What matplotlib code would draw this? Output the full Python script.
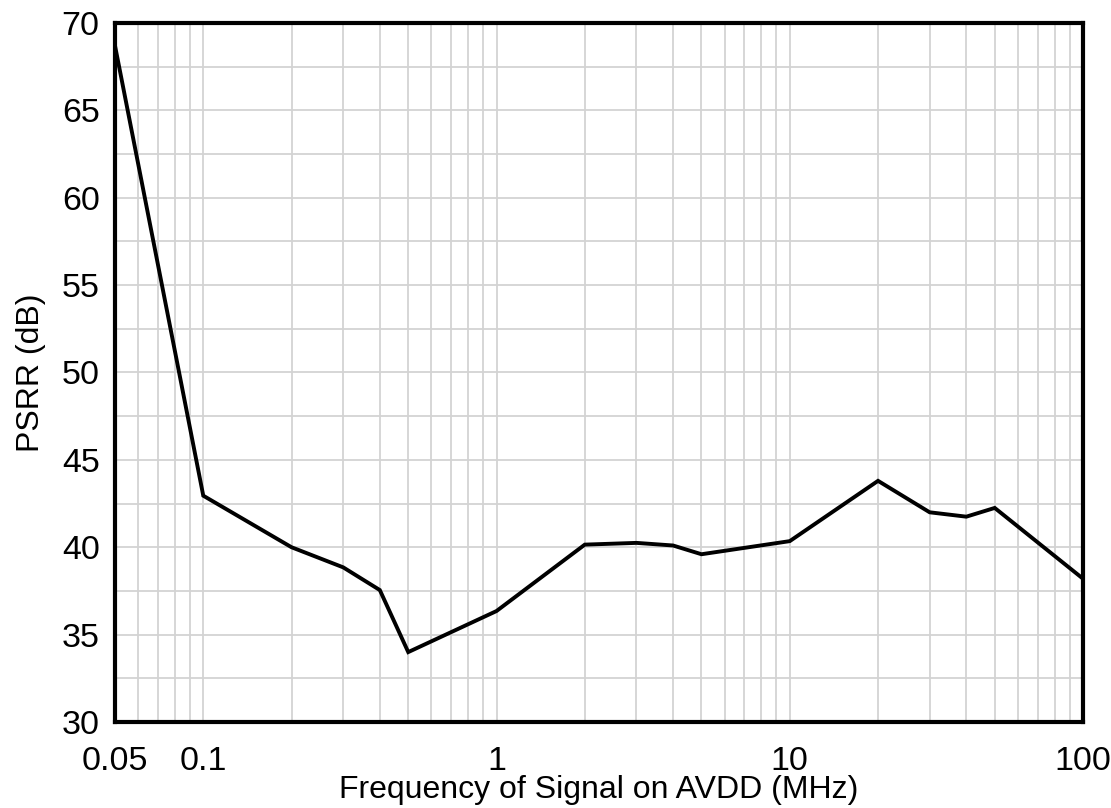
import matplotlib
matplotlib.use("Agg")
import matplotlib.pyplot as plt
from matplotlib.ticker import FixedLocator, NullFormatter, MultipleLocator

plt.rcParams['font.family'] = ['Liberation Sans', 'DejaVu Sans']

freq_mhz = [0.05, 0.1, 0.2, 0.3, 0.4, 0.5, 1, 2, 3, 4, 5, 10, 20, 30, 40, 50, 100]
psrr_db = [68.7, 42.95, 40.0, 38.85, 37.55, 34.0, 36.35, 40.15, 40.25, 40.1, 39.6, 40.35, 43.8, 42.0, 41.75, 42.25, 38.2]

xtick_vals = [0.05, 0.1, 1, 10, 100]
xtick_labels = ["0.05", "0.1", "1", "10", "100"]
ytick_vals = [30, 35, 40, 45, 50, 55, 60, 65, 70]

fig = plt.figure(figsize=(11.11, 8.08), dpi=100)
ax = fig.add_axes([115/1111, (808-722)/808, (1083-115)/1111, (722-23)/808])

ax.plot(freq_mhz, psrr_db, color='black', lw=2.8, zorder=3, solid_joinstyle='miter')
ax.set_xscale('log')
ax.set_xlim(0.05, 100)
ax.set_ylim(30, 70)

minor_x = []
for dec in [0.01, 0.1, 1, 10]:
    for m in range(2, 10):
        v = m * dec
        if 0.05 < v < 100:
            minor_x.append(v)
ax.xaxis.set_major_locator(FixedLocator(xtick_vals))
ax.set_xticklabels(xtick_labels)
ax.xaxis.set_minor_locator(FixedLocator(minor_x))
ax.xaxis.set_minor_formatter(NullFormatter())
ax.set_yticks(ytick_vals)
ax.yaxis.set_minor_locator(MultipleLocator(2.5))

ax.grid(True, which='both', color='#d3d3d3', lw=1.3, zorder=0)
ax.tick_params(which='both', length=0)
ax.tick_params(axis='x', labelsize=24.5, pad=17)
ax.tick_params(axis='y', labelsize=24.5, pad=11)
for s in ax.spines.values():
    s.set_linewidth(3)
    s.set_color('black')

ax.set_xlabel('Frequency of Signal on AVDD (MHz)', fontsize=23, labelpad=-1)
ax.set_ylabel('PSRR (dB)', fontsize=23, labelpad=11)

fig.savefig('out.png', dpi=100)
